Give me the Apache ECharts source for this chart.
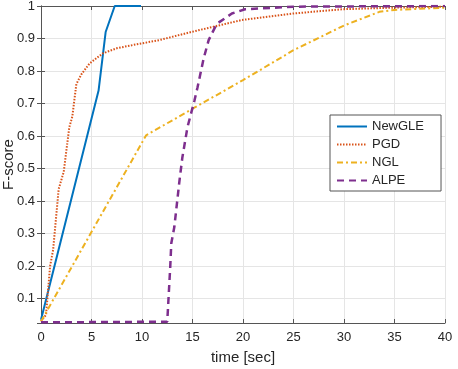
<!DOCTYPE html>
<html>
<head>
<meta charset="utf-8">
<script src="https://cdn.jsdelivr.net/npm/echarts@6/dist/echarts.min.js"></script>
<style>
  html, body { margin: 0; padding: 0; background: #fff; }
  #chart { width: 458px; height: 369px; }
</style>
</head>
<body>
<div id="chart"></div>
<script>
// values
const newgleTime = [0, 5.7, 6.4, 7.3, 9.9];
const newgleScore = [0.035, 0.74, 0.92, 1.0, 1.0];

const pgdTime = [0, 0.5, 0.9, 1.2, 1.75, 2.25, 2.8, 3.1, 3.5, 4.0, 4.8, 6.1, 7.5, 9.1, 11.7, 15, 19.9, 25, 29.8, 35, 40];
const pgdScore = [0.03, 0.05, 0.2, 0.25, 0.437, 0.49, 0.627, 0.66, 0.76, 0.79, 0.823, 0.854, 0.87, 0.88, 0.895, 0.921, 0.957, 0.977, 0.99, 0.995, 0.998];

const nglTime = [0, 10.4, 15, 20, 25, 30, 33.5, 35, 40];
const nglScore = [0.03, 0.602, 0.684, 0.772, 0.864, 0.94, 0.982, 0.988, 0.995];

const alpeTime = [0, 12.5, 12.8, 12.9, 13.2, 13.7, 14.0, 14.5, 15.2, 15.5, 16.1, 16.6, 17.4, 18.9, 20.2, 25, 40];
const alpeScore = [0.027, 0.029, 0.2, 0.27, 0.32, 0.46, 0.535, 0.627, 0.71, 0.75, 0.838, 0.895, 0.945, 0.977, 0.99, 0.998, 1.0];

const xTicks = [0, 5, 10, 15, 20, 25, 30, 35, 40];

const zip = (xs, ys) => xs.map((x, i) => [x, ys[i]]);

const textColor = '#262626';
const axisColor = '#555';
const font = 'Liberation Sans, Arial, sans-serif';

const chart = echarts.init(document.getElementById('chart'));

const option = {
  animation: false,
  grid: { left: 41, right: 13, top: 6, bottom: 46, containLabel: false, outerBoundsMode: 'none' },
  legend: {
    orient: 'vertical',
    left: 330,
    top: 115,
    padding: [5, 17, 4, 6],
    itemWidth: 30,
    itemHeight: 10,
    itemGap: 5,
    backgroundColor: '#fff',
    borderColor: '#555',
    borderWidth: 1,
    itemStyle: { opacity: 0 },
    textStyle: { fontFamily: font, fontSize: 13, color: textColor },
    data: ['NewGLE', 'PGD', 'NGL', 'ALPE']
  },
  xAxis: [
    {
      type: 'value',
      min: xTicks[0],
      max: xTicks[xTicks.length - 1],
      interval: 5,
      name: 'time [sec]',
      nameLocation: 'middle',
      nameGap: 27,
      nameMoveOverlap: false,
      nameTextStyle: { fontFamily: font, fontSize: 15, color: textColor },
      axisLine: { lineStyle: { color: axisColor } },
      axisTick: { inside: true, length: 4, lineStyle: { color: axisColor } },
      axisLabel: { fontFamily: font, fontSize: 13, color: textColor, margin: 8 },
      splitLine: { show: true, lineStyle: { color: '#e5e5e5' } }
    },
    {
      type: 'value',
      position: 'top',
      min: 0,
      max: 40,
      interval: 5,
      axisLine: { show: true, lineStyle: { color: axisColor } },
      axisTick: { inside: true, length: 4, lineStyle: { color: axisColor } },
      axisLabel: { show: false },
      splitLine: { show: false }
    }
  ],
  yAxis: [
    {
      type: 'value',
      min: 0.025,
      max: 1,
      splitNumber: 10,
      minInterval: 0.1,
      maxInterval: 0.1,
      name: 'F-score',
      nameLocation: 'middle',
      nameGap: 25,
      nameMoveOverlap: false,
      nameTextStyle: { fontFamily: font, fontSize: 15, color: textColor },
      axisLine: { show: true, lineStyle: { color: axisColor } },
      axisTick: { inside: true, length: 4, lineStyle: { color: axisColor } },
      axisLabel: {
        fontFamily: font, fontSize: 13, color: textColor, margin: 6,
        showMinLabel: false
      },
      splitLine: { show: true, lineStyle: { color: '#e5e5e5' } }
    },
    {
      type: 'value',
      position: 'right',
      min: 0.025,
      max: 1,
      splitNumber: 10,
      minInterval: 0.1,
      maxInterval: 0.1,
      axisLine: { show: true, lineStyle: { color: axisColor } },
      axisTick: { inside: true, length: 4, lineStyle: { color: axisColor } },
      axisLabel: { show: false },
      splitLine: { show: false }
    }
  ],
  series: [
    {
      name: 'NewGLE',
      type: 'line',
      data: zip(newgleTime, newgleScore),
      symbol: 'none',
      lineStyle: { color: '#0072BD', width: 2 },
      itemStyle: { color: '#0072BD' }
    },
    {
      name: 'PGD',
      type: 'line',
      data: zip(pgdTime, pgdScore),
      symbol: 'none',
      lineStyle: { color: '#D95319', width: 2, type: [1.5, 1.5] },
      itemStyle: { color: '#D95319' }
    },
    {
      name: 'NGL',
      type: 'line',
      data: zip(nglTime, nglScore),
      symbol: 'none',
      lineStyle: { color: '#EDB120', width: 2, type: [6, 3, 2, 3] },
      itemStyle: { color: '#EDB120' }
    },
    {
      name: 'ALPE',
      type: 'line',
      data: zip(alpeTime, alpeScore),
      symbol: 'none',
      lineStyle: { color: '#7E2F8E', width: 2.5, type: [7, 5] },
      itemStyle: { color: '#7E2F8E' }
    }
  ]
};

chart.setOption(option);
</script>
</body>
</html>
